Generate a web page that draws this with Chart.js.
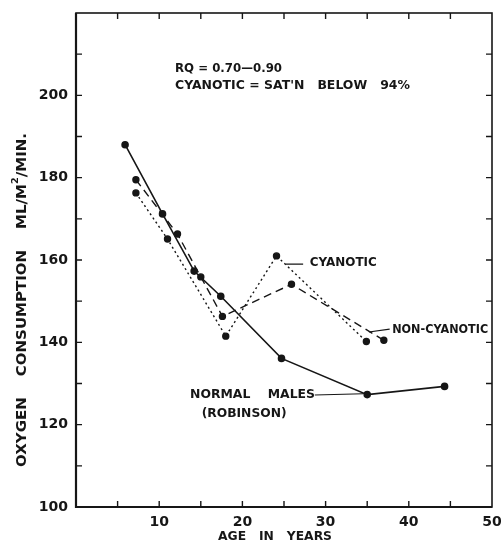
<!DOCTYPE html>
<html>
<head>
<meta charset="utf-8">
<script src="https://cdn.jsdelivr.net/npm/chart.js@4"></script>
<style>
  html, body { margin: 0; padding: 0; background: #fff; }
  #wrap { width: 501px; height: 543px; }
</style>
</head>
<body>
<div id="wrap"><canvas id="graph"></canvas></div>
<script>
// values
var normal_age = [5.9, 10.4, 14.2, 17.4, 24.7, 35.0, 44.3];
var normal_o2 = [188.0, 171.2, 157.3, 151.2, 136.1, 127.3, 129.3];
var cyan_age = [7.2, 11.0, 18.0, 24.1, 34.9];
var cyan_o2 = [176.3, 165.1, 141.5, 161.0, 140.2];
var noncyan_age = [7.2, 12.2, 15.0, 17.6, 25.9, 37.0];
var noncyan_o2 = [179.5, 166.3, 155.9, 146.3, 154.1, 140.5];
var x_labels = [10, 20, 30, 40, 50];
var y_labels = [100, 120, 140, 160, 180, 200];

var ink = "#161616";
var labelFont = "'DejaVu Sans', sans-serif";

function pts(xs, ys) {
  var out = [];
  for (var i = 0; i < xs.length; i++) out.push({ x: xs[i], y: ys[i] });
  return out;
}

// text placed in data coords: [text, x, y, width px]
var notes = [
  ["RQ = 0.70\u20140.90", 11.9, 206.6, 107],
  ["CYANOTIC = SAT'N   BELOW   94%", 11.9, 202.3, 235],
  ["CYANOTIC", 28.1, 159.3, 67],
  ["NON-CYANOTIC", 38.0, 143.0, 96],
  ["NORMAL    MALES", 13.7, 127.2, 125],
  ["(ROBINSON)", 15.1, 122.8, 85],
];
// pointer lines [x1, y1, x2, y2]
var pointers = [
  [25.2, 159.0, 27.3, 159.0],
  [35.2, 142.5, 37.7, 143.2],
  [28.7, 127.2, 34.5, 127.5],
];

function stretchText(ctx, str, x, y, w) {
  var m = ctx.measureText(str).width;
  ctx.save();
  ctx.translate(x, y);
  ctx.scale(w / m, 1);
  ctx.fillText(str, 0, 0);
  ctx.restore();
}

var decor = {
  id: "decor",
  afterDraw: function (chart) {
    var ctx = chart.ctx;
    var a = chart.chartArea;
    var sx = chart.scales.x, sy = chart.scales.y;
    ctx.save();
    ctx.strokeStyle = ink;
    ctx.fillStyle = ink;
    // frame
    ctx.lineWidth = 1.6;
    ctx.strokeRect(a.left, a.top, a.right - a.left, a.bottom - a.top);
    ctx.lineWidth = 2.2;
    ctx.beginPath();
    ctx.moveTo(a.left, a.top);
    ctx.lineTo(a.left, a.bottom);
    ctx.lineTo(a.right, a.bottom);
    ctx.stroke();
    // inward ticks
    ctx.lineWidth = 1.4;
    ctx.beginPath();
    for (var v = 5; v < 50; v += 5) {
      var px = sx.getPixelForValue(v);
      ctx.moveTo(px, a.bottom); ctx.lineTo(px, a.bottom - 6);
      ctx.moveTo(px, a.top); ctx.lineTo(px, a.top + 6);
    }
    for (var w = 110; w < 220; w += 10) {
      var py = sy.getPixelForValue(w);
      ctx.moveTo(a.left, py); ctx.lineTo(a.left + 6, py);
      ctx.moveTo(a.right, py); ctx.lineTo(a.right - 6, py);
    }
    ctx.stroke();
    // pointers
    ctx.lineWidth = 1.1;
    ctx.beginPath();
    pointers.forEach(function (p) {
      ctx.moveTo(sx.getPixelForValue(p[0]), sy.getPixelForValue(p[1]));
      ctx.lineTo(sx.getPixelForValue(p[2]), sy.getPixelForValue(p[3]));
    });
    ctx.stroke();
    // notes
    ctx.font = "bold 13px " + labelFont;
    ctx.textAlign = "left";
    ctx.textBaseline = "middle";
    notes.forEach(function (n) {
      stretchText(ctx, n[0], sx.getPixelForValue(n[1]), sy.getPixelForValue(n[2]), n[3]);
    });
    // x title
    ctx.font = "bold 13px " + labelFont;
    stretchText(ctx, "AGE   IN   YEARS", 218, 537, 114);
    // y title with superscript
    ctx.save();
    ctx.translate(22, 300);
    ctx.rotate(-Math.PI / 2);
    var p1 = "OXYGEN    CONSUMPTION    ML/M", p2 = "2", p3 = "/MIN.";
    ctx.font = "bold 14px " + labelFont;
    var w1 = ctx.measureText(p1).width, w3 = ctx.measureText(p3).width;
    ctx.font = "bold 9px " + labelFont;
    var w2 = ctx.measureText(p2).width;
    var total = w1 + w2 + w3;
    var k = 334 / total;
    ctx.scale(k, 1);
    var x0 = -total / 2;
    ctx.font = "bold 14px " + labelFont;
    ctx.fillText(p1, x0, 0);
    ctx.font = "bold 9px " + labelFont;
    ctx.fillText(p2, x0 + w1, -6);
    ctx.font = "bold 14px " + labelFont;
    ctx.fillText(p3, x0 + w1 + w2, 0);
    ctx.restore();
    ctx.restore();
  },
};

var ctx = document.getElementById("graph").getContext("2d");
var chart = new Chart(ctx, {
  type: "scatter",
  data: {
    datasets: [
      {
        label: "Normal males (Robinson)",
        data: pts(normal_age, normal_o2),
        showLine: true,
        borderColor: ink,
        backgroundColor: ink,
        borderWidth: 1.6,
        pointRadius: 3,
      },
      {
        label: "Cyanotic",
        data: pts(cyan_age, cyan_o2),
        showLine: true,
        borderColor: ink,
        backgroundColor: ink,
        borderWidth: 1.4,
        borderDash: [2, 3],
        pointRadius: 3,
      },
      {
        label: "Non-cyanotic",
        data: pts(noncyan_age, noncyan_o2),
        showLine: true,
        borderColor: ink,
        backgroundColor: ink,
        borderWidth: 1.4,
        borderDash: [8, 5],
        pointRadius: 3,
      },
    ],
  },
  options: {
    responsive: true,
    maintainAspectRatio: false,
    animation: false,
    layout: { padding: { top: 13, right: 9, left: 0, bottom: 0 } },
    plugins: {
      legend: { display: false },
      tooltip: { enabled: false },
    },
    scales: {
      x: {
        type: "linear",
        min: 0,
        max: 50,
        afterFit: function (s) {
          s.height = 36;
          s.paddingLeft = 0;
          s.paddingRight = 0;
        },
        grid: { display: false, drawTicks: false },
        border: { display: false },
        ticks: {
          stepSize: 10,
          padding: 7,
          color: ink,
          font: { family: labelFont, size: 14, weight: "bold" },
          callback: function (v) { return x_labels.indexOf(v) >= 0 ? v : ""; },
        },
      },
      y: {
        min: 100,
        max: 220,
        afterFit: function (s) {
          s.width = 76;
          s.paddingTop = 0;
          s.paddingBottom = 0;
        },
        grid: { display: false, drawTicks: false },
        border: { display: false },
        ticks: {
          stepSize: 20,
          padding: 8,
          color: ink,
          font: { family: labelFont, size: 14, weight: "bold" },
          callback: function (v) { return y_labels.indexOf(v) >= 0 ? v : ""; },
        },
      },
    },
  },
  plugins: [decor],
});
</script>
</body>
</html>
